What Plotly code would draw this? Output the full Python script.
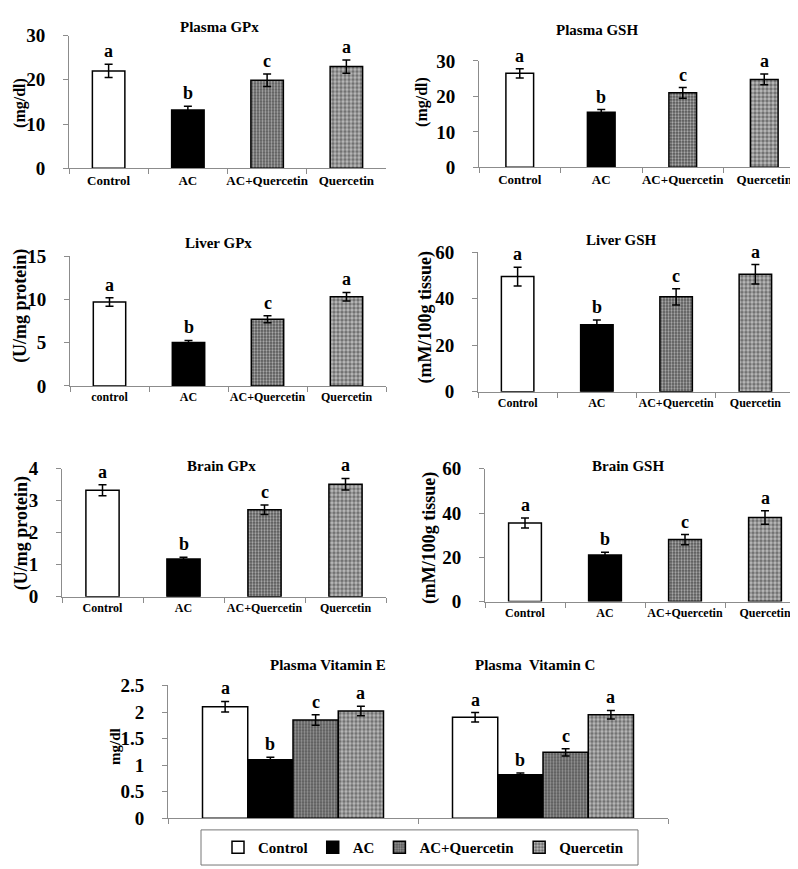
import plotly.graph_objects as go

# ---------------- data ----------------
groups = ["Control", "AC", "AC+Quercetin", "Quercetin"]
cats_std = ["Control", "AC", "AC+Quercetin", "Quercetin"]
cats_liver_gpx = ["control", "AC", "AC+Quercetin", "Quercetin"]
letters = ["a", "b", "c", "a"]

plasma_gpx = [22.0, 13.2, 19.9, 23.0]
plasma_gpx_err = [1.5, 0.8, 1.4, 1.5]
plasma_gsh = [26.5, 15.5, 21.0, 24.8]
plasma_gsh_err = [1.3, 0.8, 1.5, 1.5]
liver_gpx = [9.7, 5.0, 7.7, 10.3]
liver_gpx_err = [0.5, 0.25, 0.4, 0.5]
liver_gsh = [49.5, 28.8, 40.8, 50.5]
liver_gsh_err = [4.0, 2.0, 3.5, 4.2]
brain_gpx = [3.33, 1.18, 2.72, 3.52]
brain_gpx_err = [0.17, 0.05, 0.15, 0.18]
brain_gsh = [35.5, 21.0, 28.0, 38.0]
brain_gsh_err = [2.3, 1.3, 2.3, 3.0]

vit_cats = ["Plasma Vitamin E", "Plasma Vitamin C"]
vit_titles = ["Plasma Vitamin E", "Plasma  Vitamin C"]
vit_control = [2.10, 1.90]
vit_control_err = [0.10, 0.09]
vit_ac = [1.10, 0.82]
vit_ac_err = [0.05, 0.03]
vit_acq = [1.85, 1.24]
vit_acq_err = [0.10, 0.07]
vit_q = [2.02, 1.95]
vit_q_err = [0.09, 0.08]

# ---------------- styles ----------------
W, H = 798, 869
FONT = "Liberation Serif, Times New Roman, serif"

fills = [
    dict(color="white", pattern=dict(shape="")),
    dict(color="black", pattern=dict(shape="")),
    dict(color="#555555", pattern=dict(shape=".", fgcolor="#d8d8d8", bgcolor="#555555", size=3, solidity=0.45)),
    dict(color="#6a6a6a", pattern=dict(shape=".", fgcolor="white", bgcolor="#6a6a6a", size=4, solidity=0.6)),
]


def px_x(p):
    return p / W


def px_y(p):
    return 1 - p / H


fig = go.Figure()

panels = [
    dict(v=plasma_gpx, e=plasma_gpx_err, c=cats_std, ymax=30, tv=[0, 10, 20, 30], w=0.41,
         xp=(61, 378), yp=(154, 18), title="Plasma GPx", tpos=(211, 9), ylab="(mg/dl)", ypos=(12, 87), ysz=16, xsz=13),
    dict(v=plasma_gsh, e=plasma_gsh_err, c=cats_std, ymax=30, tv=[0, 10, 20, 30], w=0.34,
         xp=(471, 797), yp=(153, 44), title="Plasma GSH", tpos=(589, 12), ylab="(mg/dl)", ypos=(414, 86), ysz=16, xsz=13),
    dict(v=liver_gpx, e=liver_gpx_err, c=cats_liver_gpx, ymax=15, tv=[0, 5, 10, 15], w=0.41,
         xp=(62, 378), yp=(377, 244), title="Liver GPx", tpos=(210, 231), ylab="(U/mg protein)", ypos=(13, 295), ysz=18, xsz=12),
    dict(v=liver_gsh, e=liver_gsh_err, c=cats_std, ymax=60, tv=[0, 20, 40, 60], w=0.41,
         xp=(470, 787), yp=(383, 240), title="Liver GSH", tpos=(613, 227), ylab="(mM/100g tissue)", ypos=(418, 307), ysz=18, xsz=12),
    dict(v=brain_gpx, e=brain_gpx_err, c=cats_std, ymax=4, tv=[0, 1, 2, 3, 4], w=0.41,
         xp=(54, 378), yp=(593, 462), title="Brain GPx", tpos=(213, 459), ylab="(U/mg protein)", ypos=(13, 528), ysz=18, xsz=12),
    dict(v=brain_gsh, e=brain_gsh_err, c=cats_std, ymax=60, tv=[0, 20, 40, 60], w=0.41,
         xp=(477, 797), yp=(598, 462), title="Brain GSH", tpos=(620, 459), ylab="(mM/100g tissue)", ypos=(421, 533), ysz=18, xsz=12),
]

annotations = []
layout_axes = {}

for i, p in enumerate(panels, start=1):
    xa = "x" if i == 1 else f"x{i}"
    ya = "y" if i == 1 else f"y{i}"
    fig.add_trace(go.Bar(
        x=p["c"], y=p["v"], width=p["w"], xaxis=xa, yaxis=ya, showlegend=False,
        marker=dict(
            color=[f["color"] for f in fills],
            line=dict(color="black", width=1.5),
            pattern=dict(
                shape=[f["pattern"]["shape"] for f in fills],
                fgcolor=[f["pattern"].get("fgcolor", "black") for f in fills],
                bgcolor=[f["pattern"].get("bgcolor", f["color"]) for f in fills],
                size=[f["pattern"].get("size", 4) for f in fills],
                solidity=[f["pattern"].get("solidity", 0.3) for f in fills],
            ),
        ),
        error_y=dict(type="data", array=p["e"], color="black", thickness=1.5, width=4),
        cliponaxis=False,
    ))
    layout_axes[f"xaxis{'' if i == 1 else i}"] = dict(
        domain=[px_x(p["xp"][0]), px_x(p["xp"][1])], anchor=ya,
        showline=True, linecolor="#8c8c8c", linewidth=1,
        ticks="outside", tickson="boundaries", ticklen=5, tickcolor="#8c8c8c",
        tickangle=0,
        tickfont=dict(family=FONT, size=p["xsz"], color="black", weight="bold"),
        showgrid=False, zeroline=False, fixedrange=True,
    )
    layout_axes[f"yaxis{'' if i == 1 else i}"] = dict(
        domain=[px_y(p["yp"][0]), px_y(p["yp"][1])], anchor=xa,
        range=[0, p["ymax"]], tickvals=p["tv"],
        showline=True, linecolor="#8c8c8c", linewidth=1,
        ticks="outside", ticklen=5, tickcolor="#8c8c8c",
        tickfont=dict(family=FONT, size=19, color="black", weight="bold"),
        ticklabelstandoff=14,
        showgrid=False, zeroline=False, fixedrange=True,
    )
    for c, v, e, L in zip(p["c"], p["v"], p["e"], letters):
        annotations.append(dict(x=c, y=v + e, xref=xa, yref=ya, text=L, showarrow=False,
                                yanchor="bottom", yshift=1,
                                font=dict(family=FONT, size=18, color="black", weight="bold")))
    annotations.append(dict(x=px_x(p["tpos"][0]), y=px_y(p["tpos"][1]), xref="paper", yref="paper",
                            text=p["title"], showarrow=False, xanchor="center", yanchor="middle",
                            font=dict(family=FONT, size=15, color="black", weight="bold")))
    annotations.append(dict(x=px_x(p["ypos"][0]), y=px_y(p["ypos"][1]), xref="paper", yref="paper",
                            text=p["ylab"], showarrow=False, textangle=-90, xanchor="center", yanchor="middle",
                            font=dict(family=FONT, size=p["ysz"], color="black", weight="bold")))

vit_series = [
    (vit_control, vit_control_err),
    (vit_ac, vit_ac_err),
    (vit_acq, vit_acq_err),
    (vit_q, vit_q_err),
]
for g, (vals, errs), f in zip(groups, vit_series, fills):
    pat = f["pattern"]
    fig.add_trace(go.Bar(
        name=g, x=vit_cats, y=vals, xaxis="x7", yaxis="y7", showlegend=True,
        marker=dict(color=f["color"], line=dict(color="black", width=1.5),
                    pattern=dict(shape=pat["shape"], fgcolor=pat.get("fgcolor", "black"),
                                 bgcolor=pat.get("bgcolor", f["color"]), size=pat.get("size", 4),
                                 solidity=pat.get("solidity", 0.3))),
        error_y=dict(type="data", array=errs, color="black", thickness=1.5, width=4),
        cliponaxis=False,
    ))

vit_letters = {"Control": ["a", "a"], "AC": ["b", "b"], "AC+Quercetin": ["c", "c"], "Quercetin": ["a", "a"]}

layout_axes["xaxis7"] = dict(
    domain=[px_x(160), px_x(660)], anchor="y7",
    showline=True, linecolor="#8c8c8c", linewidth=1,
    ticks="outside", tickson="boundaries", ticklen=5, tickcolor="#8c8c8c",
    showticklabels=False, showgrid=False, zeroline=False, fixedrange=True,
)
layout_axes["yaxis7"] = dict(
    domain=[px_y(820), px_y(684)], anchor="x7",
    range=[0, 2.5], tickvals=[0, 0.5, 1, 1.5, 2, 2.5], ticktext=["0", "0.5", "1", "1.5", "2", "2.5"],
    showline=True, linecolor="#8c8c8c", linewidth=1,
    ticks="outside", ticklen=5, tickcolor="#8c8c8c",
    tickfont=dict(family=FONT, size=19, color="black", weight="bold"),
    ticklabelstandoff=14,
    showgrid=False, zeroline=False, fixedrange=True,
)

bargap = 0.276
group_w = 1 - bargap
bar_w = group_w / 4
for gi, (g, (vals, errs)) in enumerate(zip(groups, vit_series)):
    for ci, (v, e) in enumerate(zip(vals, errs)):
        xcat = ci - group_w / 2 + bar_w * (gi + 0.5)
        annotations.append(dict(x=xcat, y=v + e, xref="x7", yref="y7", text=vit_letters[g][ci],
                                showarrow=False, yanchor="bottom", yshift=1,
                                font=dict(family=FONT, size=18, color="black", weight="bold")))

for t, xpx in zip(vit_titles, [320, 527]):
    annotations.append(dict(x=px_x(xpx), y=px_y(663), xref="paper", yref="paper", text=t.replace("  ", "&nbsp; "),
                            showarrow=False, xanchor="center", yanchor="middle",
                            font=dict(family=FONT, size=15, color="black", weight="bold")))
annotations.append(dict(x=px_x(107), y=px_y(747), xref="paper", yref="paper", text="mg/dl",
                        showarrow=False, textangle=-90, xanchor="center", yanchor="middle",
                        font=dict(family=FONT, size=15, color="black", weight="bold")))

shapes = [dict(type="rect", xref="paper", yref="paper", x0=px_x(193), x1=px_x(630),
               y0=px_y(868), y1=px_y(832), line=dict(color="#777777", width=1), fillcolor="rgba(0,0,0,0)")]

fig.update_layout(
    width=W, height=H, margin=dict(l=0, r=0, t=0, b=0),
    paper_bgcolor="white", plot_bgcolor="white",
    font=dict(family=FONT),
    barmode="group", bargap=bargap, bargroupgap=0,
    annotations=annotations, shapes=shapes,
    showlegend=True,
    legend=dict(orientation="h", x=px_x(210), y=px_y(850), xanchor="left", yanchor="middle",
                font=dict(family=FONT, size=15, color="black", weight="bold"),
                bgcolor="rgba(0,0,0,0)", itemwidth=30, traceorder="normal"),
    **layout_axes,
)

fig.write_html("out.html")
